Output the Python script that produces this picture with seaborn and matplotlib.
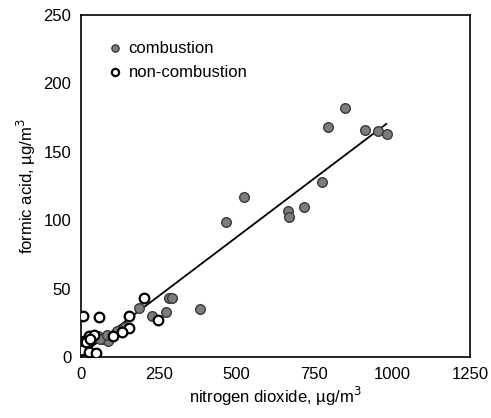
import matplotlib
matplotlib.use("Agg")
import matplotlib.pyplot as plt
import seaborn as sns
import numpy as np
import pandas as pd

# combustion samples (NO2, formic acid)
comb_x = [850, 793, 913, 955, 982, 776, 717, 666, 669, 524, 467, 382, 283, 293,
          273, 229, 186, 115, 72, 87, 35, 55, 60, 85, 140]
comb_y = [182, 168, 166, 165, 163, 128, 110, 107, 102, 117, 99, 35, 43, 43,
          33, 30, 36, 19, 13, 12, 14, 15, 13, 16, 22]
# non-combustion samples
non_x = [7, 58, 203, 248, 154, 155, 133, 102, 10, 26, 42, 0, 20, 4, 26, 47, 15, 30]
non_y = [30, 29, 43, 27, 30, 21, 18, 15, 12, 15, 16, 9, 9, 5, 4, 3, 11, 13]
# regression line
fit_slope = 0.172
fit_intercept = 1.6

x_ticks = [0, 250, 500, 750, 1000, 1250]
y_ticks = [0, 50, 100, 150, 200, 250]

df = pd.concat([
    pd.DataFrame({"no2": comb_x, "hcooh": comb_y, "kind": "combustion"}),
    pd.DataFrame({"no2": non_x, "hcooh": non_y, "kind": "non-combustion"}),
])

sns.set_theme(style="white")
plt.rcParams["font.family"] = ["Liberation Sans", "DejaVu Sans"]

fig = plt.figure(figsize=(4.91, 4.18), dpi=100)
ax = fig.add_axes([0.165, 0.146, 0.792, 0.818])

sns.scatterplot(data=df[df.kind == "combustion"], x="no2", y="hcooh", ax=ax,
                s=48, color="#7c7c7c", edgecolor="#3a3a3a", linewidth=1.0,
                label="combustion", zorder=3)
sns.scatterplot(data=df[df.kind == "non-combustion"], x="no2", y="hcooh", ax=ax,
                s=48, color="white", edgecolor="black", linewidth=1.6,
                label="non-combustion", zorder=4)

lx = np.array([min(comb_x), max(comb_x)])
sns.lineplot(x=lx, y=fit_intercept + fit_slope * lx, ax=ax, color="black",
             linewidth=1.3, zorder=2)

ax.set_xlim(0, 1250)
ax.set_ylim(0, 250)
ax.set_xticks(x_ticks)
ax.set_yticks(y_ticks)
ax.tick_params(direction="in", length=4, width=0.8, labelsize=12, colors="black",
               pad=7)
for s in ax.spines.values():
    s.set_color("black")
    s.set_linewidth(1.2)
ax.set_xlabel("nitrogen dioxide, µg/m$^3$", fontsize=12, color="black", labelpad=2)
ax.set_ylabel("formic acid, µg/m$^3$", fontsize=12, color="black", labelpad=4)

leg = ax.legend(loc="upper left", bbox_to_anchor=(0.028, 0.945), frameon=False,
                fontsize=12, handletextpad=-0.2, labelspacing=0.55, markerscale=0.75,
                borderaxespad=0)
for t in leg.get_texts():
    t.set_color("black")

fig.savefig("out.png", dpi=100)
